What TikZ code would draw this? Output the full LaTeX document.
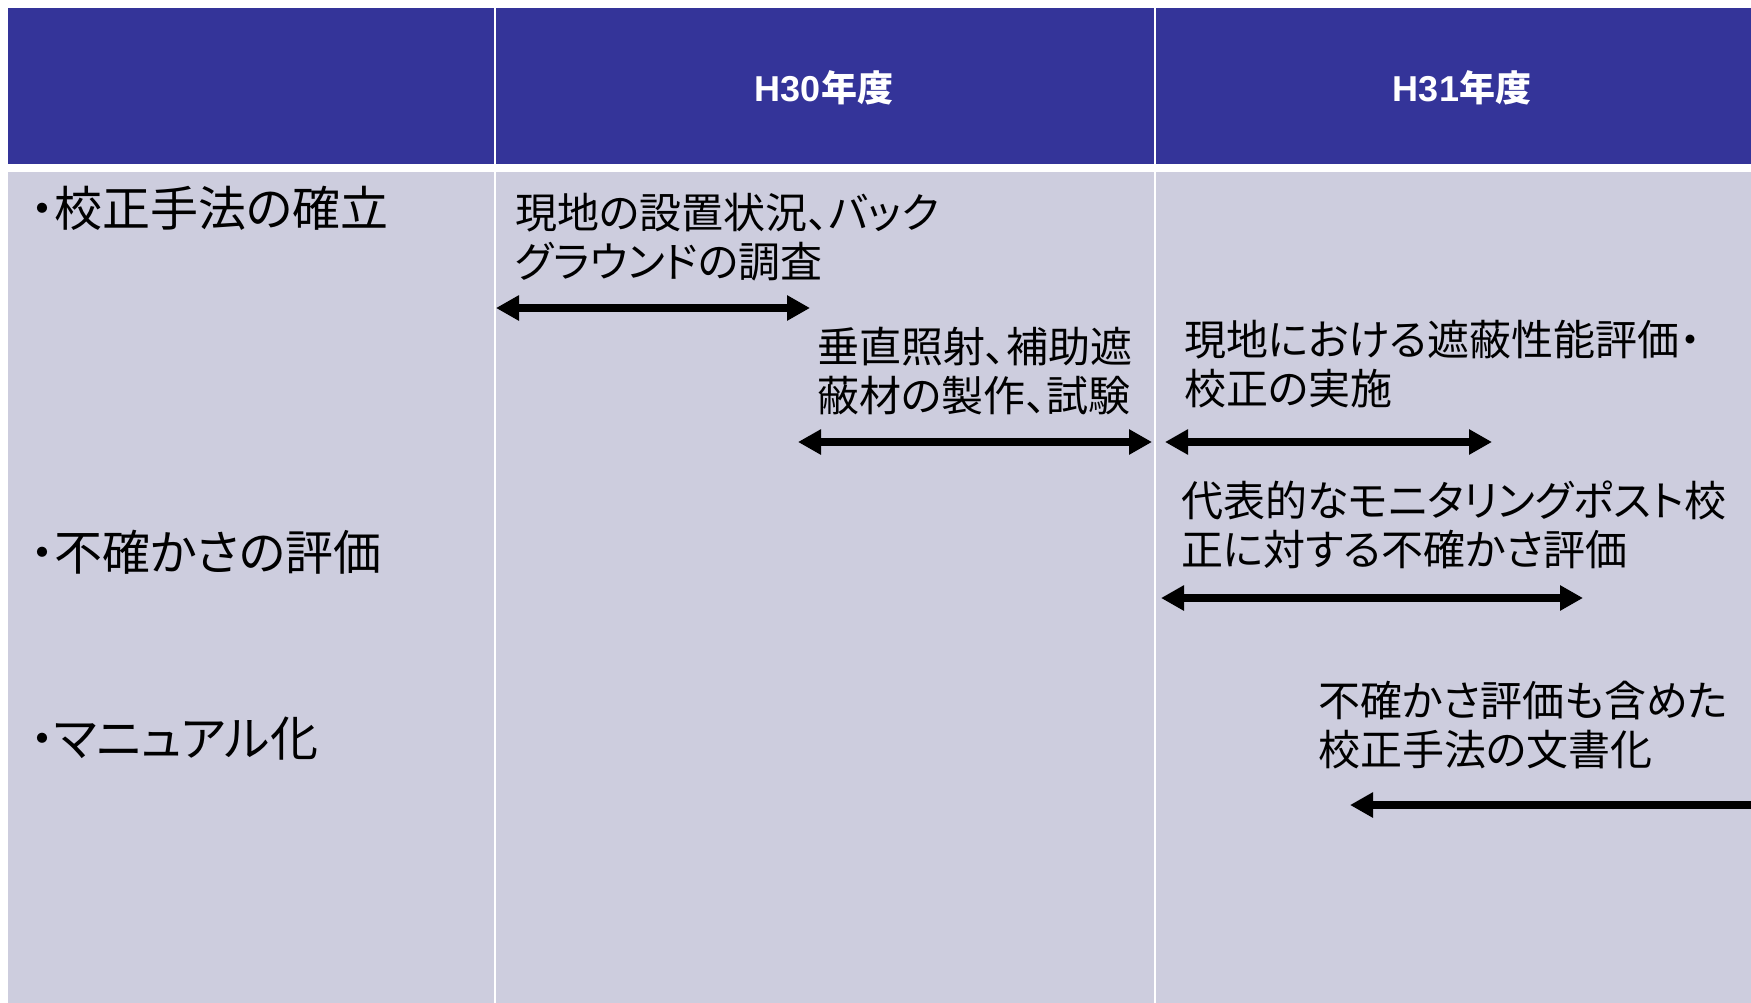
\documentclass[tikz,border=0pt]{standalone}
\usepackage{fontspec}
\usetikzlibrary{arrows.meta}
\newfontfamily\jp[RawFeature=+palt]{Noto Sans CJK JP}
\newfontfamily\hdr{Liberation Sans}
\definecolor{hdrblue}{RGB}{52,52,153}
\definecolor{bodygray}{RGB}{205,205,222}
\tikzset{
  hdrcell/.style={fill=hdrblue},
  bodycell/.style={fill=bodygray},
  hdrtext/.style={text=white,font=\fontsize{36}{40}\selectfont\bfseries,inner sep=0pt},
  rowlabel/.style={anchor=west,inner sep=0pt,font=\jp\fontsize{48}{54}\selectfont},
  task/.style={anchor=west,inner sep=0pt,align=left,font=\jp\fontsize{42}{49}\selectfont},
  span/.style={line width=8pt,{Triangle[length=23pt,width=24pt]}-{Triangle[length=23pt,width=24pt]}}
}
\begin{document}
\begin{tikzpicture}[x=1pt,y=-1pt]
\clip (0,0) rectangle (1751,1003);
\fill[white] (0,0) rectangle (1751,1003);
% header
\fill[hdrcell] (8,8) rectangle (494,164);
\fill[hdrcell] (496,8) rectangle (1154,164);
\fill[hdrcell] (1156,8) rectangle (1760,164);
% body
\fill[bodycell] (8,172) rectangle (494,1010);
\fill[bodycell] (496,172) rectangle (1154,1010);
\fill[bodycell] (1156,172) rectangle (1760,1010);
% header texts
\node[hdrtext] (h30) at (824,88) {{\hdr\bfseries H30}{\jp\bfseries 年度}};
\node[hdrtext] (h31) at (1462,88) {{\hdr\bfseries H31}{\jp\bfseries 年度}};
% row labels
\node[rowlabel] (r1) at (30,208) {・校正手法の確立};
\node[rowlabel] (r2) at (30,552) {・不確かさの評価};
\node[rowlabel] (r3) at (30,739) {・マニュアル化};
% task texts
\node[task] (t1) at (515,237) {現地の設置状況、バック\\グラウンドの調査};
\node[task] (t2) at (817,371) {垂直照射、補助遮\\蔽材の製作、試験};
\node[task] (t3) at (1184,364) {現地における遮蔽性能評価・\\校正の実施};
\node[task] (t4) at (1181,525) {代表的なモニタリングポスト校\\正に対する不確かさ評価};
\node[task] (t5) at (1318,725) {不確かさ評価も含めた\\校正手法の文書化};
% arrows
\coordinate (a1l) at (496,308); \coordinate (a1r) at (810,308);
\coordinate (a2l) at (798,442); \coordinate (a2r) at (1152,442);
\coordinate (a3l) at (1165,442); \coordinate (a3r) at (1492,442);
\coordinate (a4l) at (1161,598); \coordinate (a4r) at (1583,598);
\coordinate (a5l) at (1350,805); \coordinate (a5r) at (1774,805);
\draw[span] (a1l) -- (a1r);
\draw[span] (a2l) -- (a2r);
\draw[span] (a3l) -- (a3r);
\draw[span] (a4l) -- (a4r);
\draw[span] (a5l) -- (a5r);
\end{tikzpicture}
\end{document}
